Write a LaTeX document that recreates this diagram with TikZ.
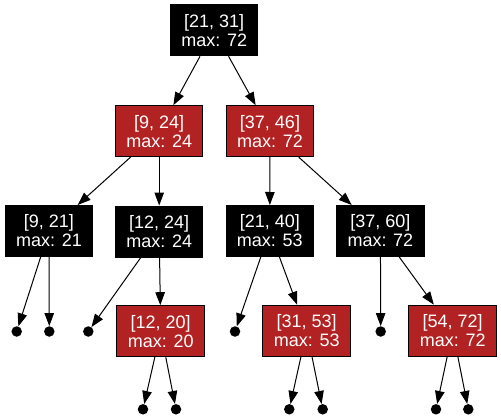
\documentclass[tikz,border=0pt]{standalone}
\usepackage{fontspec}
\setmainfont{Liberation Sans}
\usetikzlibrary{arrows.meta}
\definecolor{fire}{HTML}{B22222}
\tikzset{
  box/.style={draw=black, line width=1pt, minimum width=87.5pt, minimum height=51pt,
    inner sep=0pt, text=white, align=center,
    font=\fontsize{18}{19}\selectfont},
  blk/.style={box, fill=black},
  red/.style={box, fill=fire},
  leaf/.style={circle, fill=black, inner sep=0pt, minimum size=10.5pt},
  edge/.style={draw=black, line width=1pt, -{Triangle[length=13pt,width=9.5pt]}}
}
\begin{document}
\begin{tikzpicture}[x=1pt,y=-1pt]
\useasboundingbox (0,0) rectangle (501,420);
\fill[white] (0,0) rectangle (501,420);
\node[blk] (r) at (214.2,30.3) {[21, 31]\\max: 72};
\node[red] (a) at (159.2,131.2) {[9, 24]\\max: 24};
\node[red] (b) at (270,131.2) {[37, 46]\\max: 72};
\node[blk] (c) at (49,231) {[9, 21]\\max: 21};
\node[blk] (d) at (159.2,231.5) {[12, 24]\\max: 24};
\node[blk] (e) at (269.8,231) {[21, 40]\\max: 53};
\node[blk] (f) at (380.4,231) {[37, 60]\\max: 72};
\node[red] (g) at (160.7,331.2) {[12, 20]\\max: 20};
\node[red] (h) at (306.7,330.7) {[31, 53]\\max: 53};
\node[red] (i) at (452.7,330.7) {[54, 72]\\max: 72};
\node[leaf] (l1) at (16.7,331.5) {};
\node[leaf] (l2) at (49.3,331.5) {};
\node[leaf] (l3) at (88.3,331.5) {};
\node[leaf] (l4) at (235,331.5) {};
\node[leaf] (l5) at (380.7,331.5) {};
\node[leaf] (m1) at (143,409.3) {};
\node[leaf] (m2) at (176,409.3) {};
\node[leaf] (m3) at (289.3,409.3) {};
\node[leaf] (m4) at (322.7,409.3) {};
\node[leaf] (m5) at (436,409.3) {};
\node[leaf] (m6) at (468.3,409.3) {};
\draw[edge] (r) -- (a);
\draw[edge] (r) -- (b);
\draw[edge] (a) -- (c);
\draw[edge] (a) -- (d);
\draw[edge] (b) -- (e);
\draw[edge] (b) -- (f);
\draw[edge] (c) -- (l1);
\draw[edge] (c) -- (l2);
\draw[edge] (d) -- (l3);
\draw[edge] (d) -- (g);
\draw[edge] (e) -- (l4);
\draw[edge] (e) -- (h);
\draw[edge] (f) -- (l5);
\draw[edge] (f) -- (i);
\draw[edge] (g) -- (m1);
\draw[edge] (g) -- (m2);
\draw[edge] (h) -- (m3);
\draw[edge] (h) -- (m4);
\draw[edge] (i) -- (m5);
\draw[edge] (i) -- (m6);
\end{tikzpicture}
\end{document}
